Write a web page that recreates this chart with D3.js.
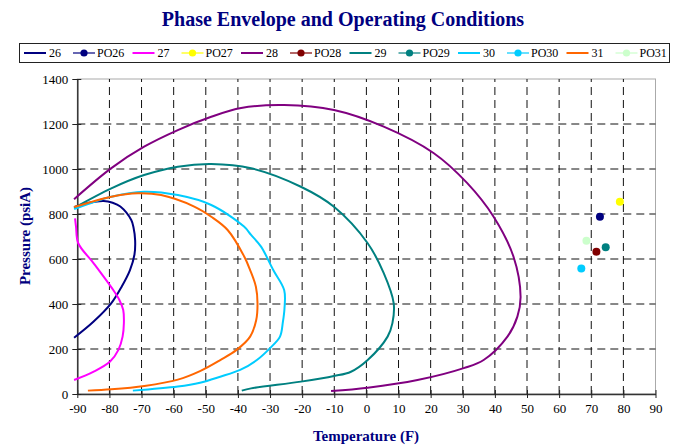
<!DOCTYPE html>
<html>
<head>
<meta charset="utf-8">
<script src="https://cdn.jsdelivr.net/npm/d3@7"></script>
<style>
  html, body { margin: 0; padding: 0; background: #fff; }
  svg { display: block; font-family: "Liberation Serif", "Times New Roman", serif; }
</style>
</head>
<body>
<svg id="chart" width="678" height="445"></svg>
<script>
// Phase envelopes: [temperature °F, pressure psiA]
const env26 = [[-91,250],[-85,321],[-79.4,404],[-76.2,477],[-73.6,551],[-72.2,620],[-72,684],[-72.5,740],[-73.2,773],[-76.6,833],[-79,850],[-81.8,858],[-85,853],[-88.5,842],[-91,830]];
const env27 = [[-91,62],[-84.9,99],[-79.8,144],[-77.2,196],[-75.9,255],[-75.5,314],[-75.7,373],[-76.9,418],[-78.8,462],[-84.9,581],[-89.7,670],[-90.4,744],[-90.7,781]];
const env28 = [[-91,866],[-79.4,1004],[-69.2,1099],[-58.7,1173],[-48.3,1232],[-39,1271],[-25.6,1284],[-10.1,1262],[5.4,1188],[21,1070],[31.4,937],[39.6,788],[45.8,610],[48,432],[47,344],[43.9,255],[36.5,151],[30.3,115],[15.9,62],[0.4,28],[-11,13]];
const env29 = [[-91,827],[-79.4,914],[-69.2,973],[-58.7,1010],[-48.3,1022],[-35.9,1003],[-20.4,921],[-10.1,832],[0.4,670],[5.4,537],[8.5,403],[8.1,315],[6.6,255],[0.4,151],[-4.8,99],[-10.1,80],[-20.4,55],[-35.9,25],[-38.8,15]];
const env30 = [[-91,822],[-79.4,877],[-69.2,899],[-58.7,884],[-48.3,840],[-38.1,744],[-35.9,707],[-32.8,655],[-29,551],[-25.6,462],[-25.5,380],[-26,320],[-26.9,255],[-30,204],[-34.1,151],[-39.3,107],[-45.5,77],[-51.8,50],[-58.7,33],[-72.7,15]];
const env31 = [[-91,831],[-79.4,877],[-71.1,892],[-63.9,884],[-53.6,833],[-48.3,788],[-43.2,729],[-38,610],[-36.2,551],[-34.4,477],[-33.9,403],[-34.3,329],[-36.2,255],[-40.4,196],[-45.5,151],[-51.8,102],[-58.7,64],[-69.1,36],[-79.4,21],[-86.7,15]];

// Operating points: [temperature °F, pressure psiA]
const po26 = [72.7, 788];
const po27 = [78.9, 855];
const po28 = [71.6, 632];
const po29 = [74.5, 652];
const po30 = [66.9, 558];
const po31 = [68.5, 681];

const envNames = ["26", "27", "28", "29", "30", "31"];
const poNames = ["PO26", "PO27", "PO28", "PO29", "PO30", "PO31"];
const colors = ["#000080", "#FF00FF", "#800080", "#008080", "#00CCFF", "#FF6600"];
const poColors = ["#000080", "#FFFF00", "#800000", "#008080", "#00CCFF", "#CCFFCC"];

const xTicks = d3.range(-90, 91, 10);
const yTicks = d3.range(0, 1401, 200);

const envelopes = [env26, env27, env28, env29, env30, env31];
const points = [po26, po27, po28, po29, po30, po31];

const svg = d3.select("#chart");
const x = d3.scaleLinear().domain([-90, 90]).range([77.3, 655.5]);
const y = d3.scaleLinear().domain([0, 1400]).range([394, 79]);

// title
svg.append("text")
  .attr("x", 343).attr("y", 26)
  .attr("text-anchor", "middle")
  .attr("font-size", 20).attr("font-weight", "bold")
  .attr("fill", "#000080")
  .text("Phase Envelope and Operating Conditions");

// legend
const lg = svg.append("g");
lg.append("rect").attr("x", 19.5).attr("y", 43.5).attr("width", 650).attr("height", 19)
  .attr("fill", "#fff").attr("stroke", "#222").attr("stroke-width", 1);
envNames.forEach((name, i) => {
  const bx = 24 + i * 108.5;
  lg.append("line").attr("x1", bx).attr("x2", bx + 22).attr("y1", 53).attr("y2", 53)
    .attr("stroke", colors[i]).attr("stroke-width", 2);
  lg.append("text").attr("x", bx + 25).attr("y", 57).attr("font-size", 12).attr("fill", "#000").text(name);
  const px = bx + 49;
  lg.append("line").attr("x1", px).attr("x2", px + 22).attr("y1", 53).attr("y2", 53)
    .attr("stroke", poColors[i]).attr("stroke-width", 1.2);
  lg.append("circle").attr("cx", px + 11).attr("cy", 53).attr("r", 3.6).attr("fill", poColors[i]);
  lg.append("text").attr("x", px + 24).attr("y", 57).attr("font-size", 12).attr("fill", "#000").text(poNames[i]);
});

// plot frame (top and right)
svg.append("rect").attr("x", x(-90)).attr("y", y(1400)).attr("width", x(90) - x(-90)).attr("height", y(0) - y(1400))
  .attr("fill", "none").attr("stroke", "#aaa").attr("stroke-width", 1);

// dashed grid
const grid = svg.append("g").attr("stroke", "#111").attr("stroke-width", 1).attr("stroke-dasharray", "8,5");
grid.selectAll("line.h").data(yTicks.filter(v => v > 0 && v < 1400)).join("line")
  .attr("x1", x(-90)).attr("x2", x(90)).attr("y1", d => y(d)).attr("y2", d => y(d));
grid.selectAll("line.v").data(xTicks.filter(v => v > -90 && v < 90)).join("line")
  .attr("y1", y(0)).attr("y2", y(1400)).attr("x1", d => x(d)).attr("x2", d => x(d));

// axes
const xAxis = svg.append("g").attr("transform", `translate(0,${y(0)})`)
  .call(d3.axisBottom(x).tickValues(xTicks).tickSize(0).tickPadding(10).tickFormat(d => String(d)));
xAxis.selectAll(".tick").append("line").attr("y1", -4).attr("y2", 4).attr("stroke", "#222");
const yAxis = svg.append("g").attr("transform", `translate(${x(-90)},0)`)
  .call(d3.axisLeft(y).tickValues(yTicks).tickSize(0).tickPadding(9).tickFormat(d => String(d)));
yAxis.selectAll(".tick").append("line").attr("x1", -5).attr("x2", 4).attr("stroke", "#222");
[xAxis, yAxis].forEach(a => {
  a.attr("font-family", "Liberation Serif");
  a.select(".domain").attr("stroke", "#333").attr("stroke-width", 1.5);
  a.selectAll("text").attr("font-size", 13).attr("fill", "#000");
});

// envelopes
const line = d3.line().x(d => x(d[0])).y(d => y(d[1])).curve(d3.curveCatmullRom.alpha(0.5));
envelopes.forEach((env, i) => {
  svg.append("path").attr("d", line(env)).attr("fill", "none")
    .attr("stroke", colors[i]).attr("stroke-width", 2).attr("stroke-linejoin", "round");
});

// operating points
points.forEach((p, i) => {
  svg.append("circle").attr("cx", x(p[0])).attr("cy", y(p[1])).attr("r", 4).attr("fill", poColors[i]);
});

// axis titles
svg.append("text")
  .attr("x", 366).attr("y", 441)
  .attr("text-anchor", "middle").attr("font-size", 15).attr("font-weight", "bold").attr("fill", "#000080")
  .text("Temperature (F)");
svg.append("text")
  .attr("transform", "translate(30,236) rotate(-90)")
  .attr("text-anchor", "middle").attr("font-size", 15).attr("font-weight", "bold").attr("fill", "#000080")
  .text("Pressure (psiA)");
</script>
</body>
</html>
